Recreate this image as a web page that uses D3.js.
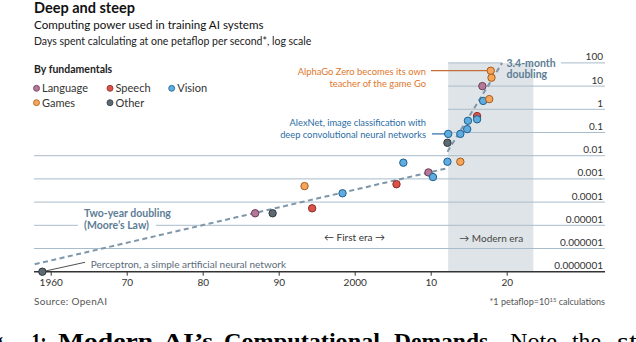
<!DOCTYPE html>
<html>
<head>
<meta charset="utf-8">
<script src="https://cdn.jsdelivr.net/npm/d3@7"></script>
<style>
  body { margin: 0; background: #fff; }
  svg { display: block; font-family: Lato, "Open Sans", sans-serif; }
</style>
</head>
<body>
<div id="chart"></div>
<script>
// data
let categories = ["Language", "Speech", "Vision", "Games", "Other"];
let pointYears = [1958.9, 1986.9, 1989.2, 1993.4, 1994.4, 1998.4, 2005.5, 2006.4,
                  2009.7, 2010.3, 2012.2, 2013.9, 2012.2, 2012.3, 2013.9, 2014.8,
                  2014.9, 2016.1, 2016.1, 2016.9, 2017.7, 2016.8, 2018.0, 2017.9];
let pointValues = [1e-7, 3.3e-5, 3.3e-5, 4.9e-4, 5.4e-5, 2.4e-4, 5.9e-4, 5.0e-3,
                   1.9e-3, 1.2e-3, 5.5e-3, 5.5e-3, 0.036, 0.087, 0.087, 0.14,
                   0.32, 0.51, 0.37, 2.3, 2.75, 10, 23, 46];
let pointTypes = ["Other", "Language", "Other", "Games", "Speech", "Vision", "Speech", "Vision",
                  "Language", "Vision", "Vision", "Games", "Other", "Vision", "Vision", "Vision",
                  "Vision", "Speech", "Vision", "Vision", "Games", "Language", "Games", "Games"];
let mooreLine = [[1957.9, 2.1e-7], [2012.3, 2.95e-3]];
let modernLine = [[2012.2, 0.0148], [2019.4, 100]];
let modernEra = [2012.3, 2023.5];
let xTickYears = [1960, 1970, 1980, 1990, 2000, 2010, 2020];
let xTickLabels = ["1960", "70", "80", "90", "2000", "10", "20"];
let yTickValues = [100, 10, 1, 0.1, 0.01, 0.001, 0.0001, 0.00001, 0.000001, 0.0000001];
let yTickLabels = ["100", "10", "1", "0.1", "0.01", "0.001", "0.0001", "0.00001", "0.000001", "0.0000001"];

let fill = {Language: "#b27896", Speech: "#d9534b", Vision: "#5dade0", Games: "#f5a65b", Other: "#5e6a72"};
let stroke = {Language: "#6e3a58", Speech: "#8e2b22", Vision: "#1f5e8c", Games: "#a65a1c", Other: "#2f373d"};

let width = 636, height = 342;
let left = 34, right = 605;

let x = d3.scaleLinear().domain([1960, 2020]).range([50.7, 506.7]);
let y = d3.scaleLog().domain([1e-7, 100]).range([271.7, 62.9]);

let svg = d3.select("#chart").append("svg")
    .attr("width", width)
    .attr("height", height);

// shaded modern era
svg.append("rect")
    .attr("x", x(modernEra[0]))
    .attr("y", y(100))
    .attr("width", x(modernEra[1]) - x(modernEra[0]))
    .attr("height", y(1e-7) - y(100))
    .attr("fill", "#dfe4e8");

// gridlines, upper ones only over the shaded part
let gridColor = "#a9bccb";
yTickValues.forEach(function(v) {
  if (v === 1e-7) return;
  let segs;
  if (v === 100) segs = [[x(modernEra[0]), 502], [561, right]];
  else if (v >= 0.1) segs = [[x(modernEra[0]), right]];
  else if (v === 0.00001) segs = [[left, 78], [156, right]];
  else segs = [[left, right]];
  segs.forEach(function(s) {
    svg.append("line")
        .attr("x1", s[0]).attr("x2", s[1])
        .attr("y1", y(v)).attr("y2", y(v))
        .attr("stroke", gridColor)
        .attr("stroke-width", 1);
  });
});

// y labels sit above their lines at the right
svg.selectAll(".ylab")
    .data(yTickValues)
  .enter().append("text")
    .attr("class", "ylab")
    .attr("x", 603)
    .attr("y", function(d) { return y(d) - 2.5; })
    .attr("text-anchor", "end")
    .attr("font-size", 10)
    .attr("fill", "#333")
    .text(function(d, i) { return yTickLabels[i]; });

// x axis
let xAxis = svg.append("g")
    .attr("transform", "translate(0," + y(1e-7) + ")")
    .call(d3.axisBottom(x)
      .tickValues(xTickYears)
      .tickFormat(function(d, i) { return xTickLabels[i]; })
      .tickSize(4)
      .tickPadding(3));
xAxis.select(".domain").remove();
xAxis.selectAll("line").attr("stroke", "#333");
xAxis.selectAll("text")
    .attr("font-family", "Lato, sans-serif")
    .attr("font-size", 10)
    .attr("fill", "#333");

svg.append("line")
    .attr("x1", left).attr("x2", right)
    .attr("y1", y(1e-7)).attr("y2", y(1e-7))
    .attr("stroke", "#333")
    .attr("stroke-width", 1.5);

// trend lines
let line = d3.line()
    .x(function(d) { return x(d[0]); })
    .y(function(d) { return y(d[1]); });

[mooreLine, modernLine].forEach(function(pts) {
  svg.append("path")
      .attr("d", line(pts))
      .attr("fill", "none")
      .attr("stroke", "#7d96aa")
      .attr("stroke-width", 2)
      .attr("stroke-dasharray", "5,3.5");
});

// annotation connectors
svg.append("line")
    .attr("x1", 431).attr("x2", x(2017.9))
    .attr("y1", y(46)).attr("y2", y(46))
    .attr("stroke", "#c26f38").attr("stroke-width", 1.2);
svg.append("line")
    .attr("x1", 432).attr("x2", x(2012.3))
    .attr("y1", y(0.087)).attr("y2", y(0.087))
    .attr("stroke", "#2b6ca3").attr("stroke-width", 1.2);
svg.append("line")
    .attr("x1", x(1958.9)).attr("x2", 85)
    .attr("y1", y(1e-7)).attr("y2", 262.3)
    .attr("stroke", "#222").attr("stroke-width", 0.8);

// points
svg.selectAll(".dot")
    .data(pointYears)
  .enter().append("circle")
    .attr("class", "dot")
    .attr("cx", function(d) { return x(d); })
    .attr("cy", function(d, i) { return y(pointValues[i]); })
    .attr("r", 3.7)
    .attr("fill", function(d, i) { return fill[pointTypes[i]]; })
    .attr("stroke", function(d, i) { return stroke[pointTypes[i]]; })
    .attr("stroke-width", 1);

// text helper
function label(txt, px, py, opts) {
  opts = opts || {};
  return svg.append("text")
      .attr("x", px)
      .attr("y", py)
      .attr("text-anchor", opts.anchor || "start")
      .attr("font-size", opts.size || 10)
      .attr("font-weight", opts.weight || 400)
      .attr("fill", opts.color || "#333")
      .text(txt);
}

// titles
label("Deep and steep", 34, 12.5, {size: 14.5, weight: 700, color: "#111"});
label("Computing power used in training AI systems", 34, 29, {size: 11.6, color: "#111"});
label("Days spent calculating at one petaflop per second*, log scale", 34, 45, {size: 10.5, color: "#222"});

// legend
label("By fundamentals", 34, 72.5, {size: 10.5, weight: 700, color: "#222"});
let legendPos = {Language: [36.5, 88.3], Speech: [110, 88.3], Vision: [171.7, 88.3],
                 Games: [36.5, 102.7], Other: [110, 102.7]};
categories.forEach(function(c) {
  let p = legendPos[c];
  svg.append("circle")
      .attr("cx", p[0]).attr("cy", p[1]).attr("r", 3)
      .attr("fill", fill[c]).attr("stroke", stroke[c]).attr("stroke-width", 0.8);
  label(c, p[0] + 5.5, p[1] + 3.8, {size: 11, color: "#333"});
});

// annotations
label("AlphaGo Zero becomes its own", 426, 75, {anchor: "end", size: 9.4, color: "#e0782c"});
label("teacher of the game Go", 426, 86.5, {anchor: "end", size: 9.4, color: "#e0782c"});
label("AlexNet, image classification with", 426, 125.5, {anchor: "end", size: 9.3, color: "#2b6ca3"});
label("deep convolutional neural networks", 426, 137.5, {anchor: "end", size: 9.3, color: "#2b6ca3"});
label("3.4-month", 506.5, 66.5, {size: 10.5, weight: 700, color: "#5d7d95"});
label("doubling", 506.5, 77.5, {size: 10.5, weight: 700, color: "#5d7d95"});
label("Two-year doubling", 84, 216.5, {size: 10.5, weight: 700, color: "#5d7d95"});
label("(Moore\u2019s Law)", 84, 228.8, {size: 10.5, weight: 700, color: "#5d7d95"});
label("\u2190 First era \u2192", 324, 241, {size: 10, color: "#333"});
label("\u2192 Modern era", 459.3, 241.5, {size: 10, color: "#444"});
label("Perceptron, a simple artificial neural network", 90.7, 268, {size: 10, color: "#5b6b7a"});

// footer
label("Source: OpenAI", 34, 305, {size: 10, color: "#555"}).attr("letter-spacing", 0.3);
let foot = label("", 605, 305, {anchor: "end", size: 9, color: "#555"});
foot.append("tspan").text("*1 petaflop=10");
foot.append("tspan").attr("font-size", 6).attr("dy", -3).text("15");
foot.append("tspan").attr("dy", 3).text(" calculations");

// paper caption, cut off by the bottom edge
let capWords = ["Fig.", "1:", "Modern", "AI\u2019s", "Computational", "Demands.", "Note", "the", "steep"];
let capStart = [-30, 31.5, 58, 163, 224, 394, 510, 572, 617];
let capEnd = [10, 46.5, 153, 213, 380, 494, 557, 601, 680];
let capBold = [false, true, true, true, true, true, false, false, false];
capWords.forEach(function(w, i) {
  svg.append("text")
      .attr("x", capStart[i])
      .attr("y", 348.5)
      .attr("font-family", "'Liberation Serif', 'Times New Roman', serif")
      .attr("font-size", 24)
      .attr("font-weight", capBold[i] ? 700 : 400)
      .attr("textLength", capEnd[i] - capStart[i])
      .attr("lengthAdjust", "spacingAndGlyphs")
      .attr("fill", "#000")
      .text(w);
});
</script>
</body>
</html>
